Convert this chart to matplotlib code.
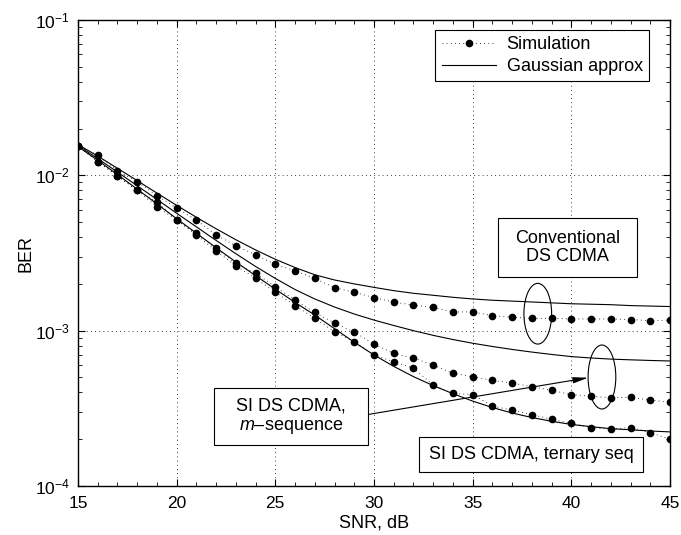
import numpy as np
import matplotlib
matplotlib.use("Agg")
import matplotlib.pyplot as plt
from matplotlib.patches import Ellipse, Rectangle
from matplotlib.lines import Line2D
from matplotlib.ticker import LogLocator, MultipleLocator

plt.rcParams['font.family'] = ['Liberation Sans', 'DejaVu Sans']
plt.rcParams['mathtext.fontset'] = 'custom'
plt.rcParams['mathtext.rm'] = 'Liberation Sans'
plt.rcParams['mathtext.it'] = 'Liberation Sans:italic'

# ===== data =====
snr = list(range(15, 46))

conv_sim = [0.0155, 0.0135, 0.0107, 0.0091, 0.0074, 0.00615, 0.00515, 0.00413,
            0.00352, 0.00308, 0.00267, 0.00243, 0.00217, 0.00189, 0.00177, 0.00163,
            0.00153, 0.00146, 0.00141, 0.00132, 0.00132, 0.00125, 0.00122, 0.0012,
            0.0012, 0.00119, 0.00119, 0.00119, 0.00118, 0.00116, 0.00117]
mseq_sim = [0.0155, 0.01225, 0.0099, 0.0080, 0.00676, 0.00515, 0.00423, 0.00339,
            0.00271, 0.00234, 0.00192, 0.00157, 0.00131, 0.00112, 0.00098, 0.00082,
            0.000714, 0.000667, 0.000601, 0.000531, 0.000505, 0.000479, 0.00046,
            0.000436, 0.000413, 0.000388, 0.000378, 0.00037, 0.000372, 0.000357,
            0.000347]
tern_sim = [0.0155, 0.01225, 0.0099, 0.0080, 0.00628, 0.00515, 0.00413, 0.00326,
            0.00262, 0.00217, 0.00177, 0.00145, 0.0012, 0.000985, 0.000846, 0.000697,
            0.000631, 0.000574, 0.000446, 0.000394, 0.000388, 0.000327, 0.000308,
            0.000288, 0.000269, 0.000253, 0.000238, 0.000232, 0.000238, 0.000221,
            0.0002]

conv_gauss = [0.0158, 0.0133, 0.0111, 0.00925, 0.00769, 0.00641, 0.00537, 0.00453,
              0.00385, 0.00331, 0.00288, 0.00255, 0.00229, 0.00212, 0.0020, 0.0019,
              0.00181, 0.00174, 0.00169, 0.00164, 0.0016, 0.00157, 0.00155, 0.00153,
              0.00151, 0.00149, 0.00148, 0.00147, 0.00145, 0.00144, 0.00143]
mseq_gauss = [0.0156, 0.01282, 0.0105, 0.00857, 0.0070, 0.0057, 0.00466, 0.00381,
              0.00313, 0.00259, 0.00217, 0.00184, 0.0016, 0.00142, 0.00128, 0.00117,
              0.00108, 0.0010, 0.000933, 0.000877, 0.00083, 0.000791, 0.000757,
              0.000728, 0.000703, 0.000681, 0.000667, 0.000656, 0.000649, 0.000643,
              0.000638]
tern_gauss = [0.01531, 0.0125, 0.01012, 0.00815, 0.00655, 0.00526, 0.00424, 0.00342,
              0.00277, 0.00226, 0.00185, 0.00152, 0.00126, 0.00103, 0.000843,
              0.000698, 0.000589, 0.000506, 0.000443, 0.000393, 0.000352, 0.00032,
              0.000295, 0.000276, 0.000261, 0.000249, 0.000241, 0.000234, 0.00023,
              0.000226, 0.000223]

# ===== figure =====
fig = plt.figure(figsize=(6.81, 5.35), dpi=100)
ax = fig.add_axes([0.1145, 0.0916, 0.8693, 0.8710])

for g in (conv_gauss, mseq_gauss, tern_gauss):
    ax.plot(snr, g, color='black', lw=0.8)
for s in (conv_sim, mseq_sim, tern_sim):
    ax.plot(snr, s, color='black', lw=0.6, ls=(0, (1, 4)),
            marker='o', ms=4.5, mfc='black', mec='black')

ax.set_yscale('log')
ax.set_xlim(15, 45)
ax.set_ylim(1e-4, 1e-1)
ax.xaxis.set_major_locator(MultipleLocator(5))
ax.xaxis.set_minor_locator(MultipleLocator(1))
ax.yaxis.set_minor_locator(LogLocator(base=10, subs=np.arange(2, 10)))
ax.tick_params(which='both', direction='in', top=True, right=True, labelsize=12.5)
ax.tick_params(which='major', length=5)
ax.tick_params(which='minor', length=3)
ax.tick_params(axis='x', which='major', pad=7)
ax.tick_params(axis='y', which='major', pad=6)
for sp in ax.spines.values():
    sp.set_linewidth(1.0)
ax.grid(True, which='major', color='black', lw=0.6, ls=(0, (1, 4)))

ax.set_xlabel('SNR, dB', fontsize=13, labelpad=3)
ax.set_ylabel('BER', fontsize=13, labelpad=0)

# ----- legend -----
handles = [Line2D([], [], color='black', lw=0.6, ls=(0, (1, 4)), marker='o',
                  ms=4.5, mfc='black'),
           Line2D([], [], color='black', lw=0.8)]
leg = ax.legend(handles, ['Simulation', 'Gaussian approx'], loc='upper right',
                bbox_to_anchor=(0.9645, 0.9785), borderaxespad=0, fontsize=13,
                numpoints=1, handlelength=3.0, handletextpad=0.6,
                fancybox=False, framealpha=1, edgecolor='black',
                borderpad=0.35, labelspacing=0.25)
leg.get_frame().set_linewidth(0.8)

# ----- annotations -----
def box(x0, y0, x1, y1):
    ax.add_patch(Rectangle((x0, y0), x1 - x0, y1 - y0, transform=ax.transAxes,
                           fill=True, fc='white', ec='black', lw=0.8, zorder=5))

box(0.710, 0.4485, 0.9437, 0.5745)
ax.text(0.827, 0.5115, 'Conventional\nDS CDMA', transform=ax.transAxes,
        ha='center', va='center', fontsize=13, linespacing=1.1, zorder=6)

box(0.2302, 0.0873, 0.4894, 0.2097)
ax.text(0.3598, 0.1485, 'SI DS CDMA,\n$m$\u2013sequence', transform=ax.transAxes,
        ha='center', va='center', fontsize=13, linespacing=1.2, zorder=6)

box(0.5765, 0.0294, 0.9549, 0.1045)
ax.text(0.7657, 0.067, 'SI DS CDMA, ternary seq', transform=ax.transAxes,
        ha='center', va='center', fontsize=13, zorder=6)

ax.add_patch(Ellipse((0.7767, 0.3697), 0.0468, 0.1303, transform=ax.transAxes,
                     fill=False, ec='black', lw=0.8, zorder=6))
ax.add_patch(Ellipse((0.8851, 0.2339), 0.0468, 0.1373, transform=ax.transAxes,
                     fill=False, ec='black', lw=0.8, zorder=6))

ax.annotate('', xy=(0.8620, 0.2324), xytext=(0.4921, 0.1539),
            xycoords='axes fraction', textcoords='axes fraction',
            arrowprops=dict(arrowstyle='-|>,head_length=0.9,head_width=0.18',
                            color='black', lw=0.8, shrinkA=0, shrinkB=0),
            zorder=6)

fig.savefig('out.png', dpi=100)
